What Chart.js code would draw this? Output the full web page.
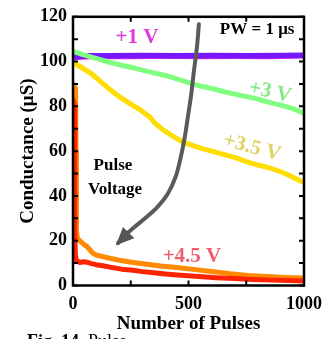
<!DOCTYPE html>
<html><head><meta charset="utf-8">
<script src="https://cdn.jsdelivr.net/npm/chart.js@4"></script>
<style>html,body{margin:0;padding:0;background:#fff;overflow:hidden}</style>
</head><body>
<canvas id="c" width="333" height="339"></canvas>
<script>
// ---- data ----
const xTickValues = [0, 500, 1000];
const yTickValues = [0, 20, 40, 60, 80, 100, 120];

const pulses1V = [0, 20, 60, 150, 300, 450, 600, 750, 900, 1000];
const g1V      = [101.9, 102.3, 102.6, 102.6, 102.7, 102.6, 102.7, 102.6, 102.7, 102.8];
const pulses1Vb = [0, 20, 100, 250, 400, 550, 700, 850, 1000];
const g1Vb      = [101.0, 101.4, 101.8, 101.7, 101.9, 101.7, 101.8, 101.7, 102.0];

const pulses3V = [0, 40, 80, 130, 200, 270, 330, 400, 470, 530, 600, 660, 720, 780, 850, 920, 970, 1000];
const g3V      = [104.6, 103.2, 102, 100.5, 98.6, 97, 95.4, 93.8, 91.6, 89.6, 88, 86.4, 85, 83.8, 81.8, 80, 78.3, 76.8];

const pulses35V = [0, 30, 75, 115, 160, 205, 250, 290, 330, 355, 390, 430, 476, 520, 564, 636, 700, 760, 800, 850, 900, 950, 1000];
const g35V      = [99.5, 97.8, 95, 91.5, 87.5, 84, 81, 78.5, 75.5, 72.5, 69.5, 66.8, 64, 62.5, 61, 59, 57.2, 55, 53.8, 52.5, 50.8, 48.5, 46];

const pulses45Vr = [0, 6, 7, 8, 10, 14, 20, 30, 45, 60, 80, 100, 130, 170, 210, 260, 300, 350, 400, 450, 500, 560, 620, 700, 780, 860, 940, 1000];
const g45Vr      = [83, 80, 50, 25, 14, 11.5, 10.8, 10.3, 10.6, 10.4, 9.8, 9.3, 8.8, 8, 7.3, 6.8, 6.2, 5.7, 5.1, 4.7, 4.4, 3.9, 3.5, 3.1, 2.7, 2.4, 2.2, 2];

const pulses45Vo = [0, 11, 13, 14, 16, 20, 30, 45, 60, 70, 85, 100, 140, 200, 260, 320, 380, 450, 520, 600, 680, 760, 840, 920, 1000];
const g45Vo      = [90, 88, 60, 35, 24, 21, 20, 18.5, 17.5, 16.3, 14.5, 13.6, 12.6, 11.3, 10.3, 9.5, 8.7, 8, 7.2, 6.3, 5.3, 4.5, 4, 3.6, 3.3];

// gray "Pulse Voltage" arrow path (data coordinates)
const arrowX = [545, 537, 524, 511, 498, 485, 468, 446, 411, 364, 312, 260, 221, 195];
const arrowY = [116.7, 106.9, 96.2, 84.7, 75.8, 66.9, 58, 49.1, 41.1, 34.9, 30, 25.6, 22, 18.9];

// ---- helpers ----
const pts = (xs, ys) => xs.map((x, i) => ({x, y: ys[i]}));
const SERIF = '"Liberation Serif", "Times New Roman", serif';

const textNotes = [
  {text: '+1 V',     x: 277, y: 110.9, color: '#d93ddb', size: 21, rot: 0},
  {text: 'PW = 1 μs', x: 797, y: 114.4, color: '#000000', size: 17, rot: 0},
  {text: '+3 V',     x: 853, y: 86.4,  color: '#86e886', size: 21, rot: 12},
  {text: '+3.5 V',   x: 775, y: 61.6,  color: '#ddd162', size: 21, rot: 15},
  {text: '+4.5 V',   x: 515, y: 13.1,  color: '#f0606e', size: 21, rot: 0},
  {text: 'Pulse',    x: 173, y: 53.6,  color: '#000000', size: 17, rot: 0},
  {text: 'Voltage',  x: 182, y: 42.9,  color: '#000000', size: 17, rot: 0}
];

const decor = {
  id: 'decor',
  afterDatasetsDraw(chart) {
    const {ctx, chartArea: a, scales: {x, y}} = chart;
    ctx.save();
    // arrowhead
    const meta = chart.getDatasetMeta(0);
    const p = meta.data, n = p.length;
    const tip = p[n - 1], prev = p[n - 3];
    const ang = Math.atan2(tip.y - prev.y, tip.x - prev.x);
    const L = 15, W = 8;
    ctx.fillStyle = '#555555';
    ctx.beginPath();
    ctx.moveTo(tip.x + 3 * Math.cos(ang), tip.y + 3 * Math.sin(ang));
    ctx.lineTo(tip.x - L * Math.cos(ang) + W * Math.sin(ang), tip.y - L * Math.sin(ang) - W * Math.cos(ang));
    ctx.lineTo(tip.x - L * Math.cos(ang) - W * Math.sin(ang), tip.y - L * Math.sin(ang) + W * Math.cos(ang));
    ctx.closePath();
    ctx.fill();

    // frame
    ctx.strokeStyle = '#000';
    ctx.lineWidth = 2.5;
    ctx.strokeRect(a.left, a.top, a.right - a.left, a.bottom - a.top);
    // inward ticks
    ctx.lineWidth = 2;
    for (let v = 0; v <= 120; v += 10) {
      const py = y.getPixelForValue(v);
      ctx.beginPath();
      ctx.moveTo(a.left, py); ctx.lineTo(a.left + 5, py);
      ctx.moveTo(a.right, py); ctx.lineTo(a.right - 5, py);
      ctx.stroke();
    }
    for (let v = 250; v < 1000; v += 250) {
      const px = x.getPixelForValue(v);
      ctx.beginPath();
      ctx.moveTo(px, a.bottom); ctx.lineTo(px, a.bottom - 5);
      ctx.moveTo(px, a.top); ctx.lineTo(px, a.top + 5);
      ctx.stroke();
    }

    // text notes
    ctx.textAlign = 'center';
    ctx.textBaseline = 'middle';
    for (const t of textNotes) {
      ctx.save();
      ctx.translate(x.getPixelForValue(t.x), y.getPixelForValue(t.y));
      ctx.rotate(t.rot * Math.PI / 180);
      ctx.font = 'bold ' + t.size + 'px ' + SERIF;
      ctx.fillStyle = t.color;
      ctx.fillText(t.text, 0, 0);
      ctx.restore();
    }
    // cut-off caption below the figure
    ctx.textAlign = 'left';
    ctx.textBaseline = 'alphabetic';
    ctx.font = 'bold 18px ' + SERIF;
    ctx.fillStyle = '#000';
    ctx.fillText('Fig. 14.', 27, 347);
    ctx.font = '18px ' + SERIF;
    ctx.fillText('Pulse', 88, 347);
    ctx.restore();
  }
};

const ds = (label, xs, ys, color, width, order) => ({
  label, data: pts(xs, ys), borderColor: color, borderWidth: width, order,
  pointRadius: 0, tension: 0, fill: false
});

const datasets = [
  Object.assign(ds('arrow', arrowX, arrowY, '#5a5a5a', 4, 0), {tension: 0.3}),
  ds('+3.5 V', pulses35V, g35V, '#ffdd00', 5, 1),
  ds('+3 V', pulses3V, g3V, '#80ff80', 5, 2),
  ds('+1 V', pulses1V, g1V, '#7717ff', 5.5, 3),
  ds('+1 V b', pulses1Vb, g1Vb, '#e024e8', 3, 4),
  ds('+4.5 V red', pulses45Vr, g45Vr, '#ff2400', 5, 5),
  ds('+4.5 V orange', pulses45Vo, g45Vo, '#ff8a00', 5, 6)
];

new Chart(document.getElementById('c'), {
  type: 'line',
  data: {datasets},
  options: {
    responsive: false, animation: false, devicePixelRatio: 1,
    layout: {padding: {top: 16, right: 29, left: 0, bottom: 0}},
    plugins: {legend: {display: false}, tooltip: {enabled: false}},
    elements: {line: {borderCapStyle: 'round', borderJoinStyle: 'round'}},
    scales: {
      x: {
        type: 'linear', min: 0, max: 1000,
        afterFit(s) { s.height = 53.5; },
        afterBuildTicks(s) { s.ticks = xTickValues.map(v => ({value: v})); },
        grid: {display: false, drawTicks: false}, border: {display: false},
        ticks: {autoSkip: false, maxRotation: 0, padding: 8, color: '#000',
          callback: v => String(v),
          font: {family: SERIF, size: 18, weight: 'bold'}},
        title: {display: true, text: 'Number of Pulses', color: '#000',
          font: {family: SERIF, size: 19, weight: 'bold'}, padding: {top: 0, bottom: 4}}
      },
      y: {
        type: 'linear', min: 0, max: 120,
        afterFit(s) { s.width = 73; },
        afterBuildTicks(s) { s.ticks = yTickValues.map(v => ({value: v})); },
        grid: {display: false, drawTicks: false}, border: {display: false},
        ticks: {padding: 6, color: '#000', callback: v => String(v),
          font: {family: SERIF, size: 18, weight: 'bold'}},
        title: {display: true, text: 'Conductance (μS)', color: '#000',
          font: {family: SERIF, size: 19, weight: 'bold'}, padding: {top: 17, bottom: 0}}
      }
    }
  },
  plugins: [decor]
});
</script>
</body></html>
